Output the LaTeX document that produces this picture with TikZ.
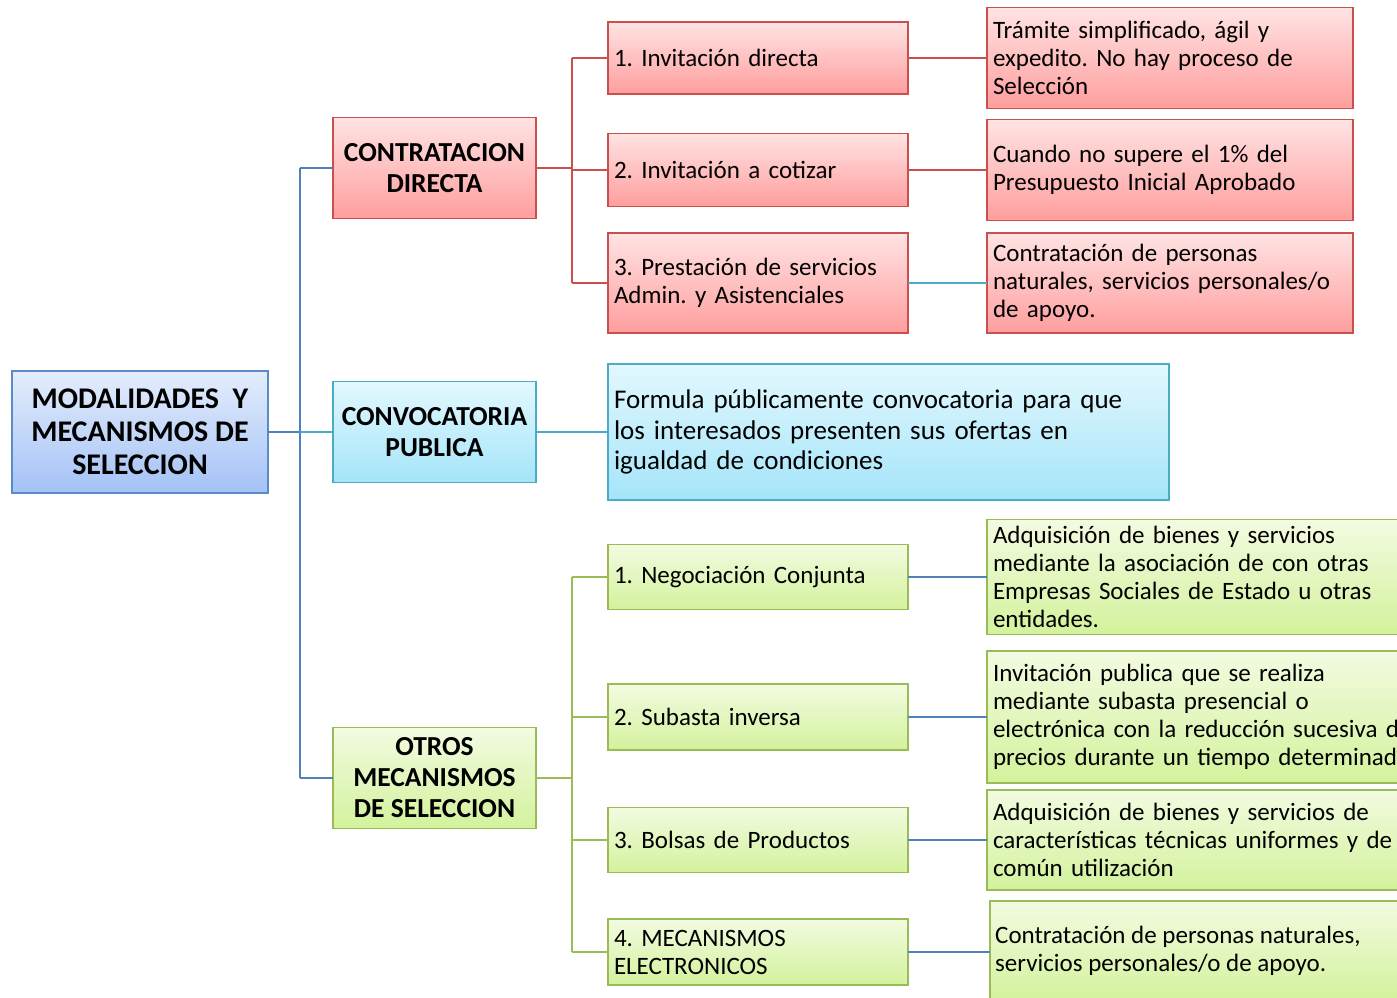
\documentclass[tikz,border=0pt]{standalone}
\usepackage{fontspec}
\setmainfont{Carlito}
\frenchspacing
\definecolor{redB}{HTML}{C9504D}
\definecolor{redT}{HTML}{FFE3E3}
\definecolor{redD}{HTML}{FF9E9E}
\definecolor{bluB}{HTML}{5B8BC9}
\definecolor{bluT}{HTML}{E4EDFC}
\definecolor{bluD}{HTML}{A4C2F6}
\definecolor{cyB}{HTML}{4BACC6}
\definecolor{cyT}{HTML}{E3F8FE}
\definecolor{cyD}{HTML}{A4E5F9}
\definecolor{grB}{HTML}{9BBB59}
\definecolor{grT}{HTML}{F3FBE1}
\definecolor{grD}{HTML}{D3F29C}
\definecolor{lnBlue}{HTML}{4F81BD}
\begin{document}
\begin{tikzpicture}[x=1pt,y=-1pt,
  box/.style={rectangle,line width=1.2pt,inner sep=0pt,outer sep=0pt},
  redbox/.style={box,draw=redB,top color=redT,bottom color=redD},
  blubox/.style={box,draw=bluB,top color=bluT,bottom color=bluD},
  cybox/.style={box,draw=cyB,top color=cyT,bottom color=cyD},
  grbox/.style={box,draw=grB,top color=grT,bottom color=grD},
  head/.style={align=center,font=\bfseries\fontsize{27.5}{31}\selectfont},
  txt/.style={align=left,font=\fontsize{25}{28}\selectfont},
  redln/.style={draw=redB,line width=1.4pt},
  bluln/.style={draw=lnBlue,line width=1.4pt},
  cyln/.style={draw=cyB,line width=1.4pt},
  grln/.style={draw=grB,line width=1.4pt}]
\useasboundingbox (0,0) rectangle (1397,997);
\clip (0,0) rectangle (1397,997);
% main
\node[blubox,minimum width=256,minimum height=122,align=center,font=\bfseries\fontsize{30}{33}\selectfont] (main) at (140,432) {MODALIDADES\ \ Y\\MECANISMOS DE\\SELECCION};
% level 1
\node[redbox,head,minimum width=203,minimum height=101] (cd) at (434.5,168) {CONTRATACION\\DIRECTA};
\node[cybox,head,minimum width=203,minimum height=101] (cp) at (434.5,432) {CONVOCATORIA\\PUBLICA};
\node[grbox,head,minimum width=203,minimum height=101] (om) at (434.5,778) {OTROS\\MECANISMOS\\DE SELECCION};
% level 2 red
\node[redbox,txt,minimum width=300,minimum height=72,text width=288] (c1) at (758,58) {1. Invitación directa};
\node[redbox,txt,minimum width=300,minimum height=73,text width=288] (c2) at (758,170) {2. Invitación a cotizar};
\node[redbox,txt,minimum width=300,minimum height=100,text width=288] (c3) at (758,283) {3. Prestación de servicios\\Admin. y Asistenciales};
% level 3 red
\node[redbox,txt,minimum width=366,minimum height=101,text width=354] (r1) at (1170,58) {Trámite simplificado, ágil y\\expedito. No hay proceso de\\Selección};
\node[redbox,txt,minimum width=366,minimum height=101,text width=354] (r2) at (1170,170) {Cuando no supere el 1\% del\\Presupuesto Inicial Aprobado};
\node[redbox,txt,minimum width=366,minimum height=100,text width=354] (r3) at (1170,283) {Contratación de personas\\naturales, servicios personales/o\\de apoyo.};
% convocatoria text
\node[cybox,align=left,font=\fontsize{27}{30.5}\selectfont,minimum width=561,minimum height=136,text width=549] (f) at (888.5,432) {Formula públicamente\ convocatoria para que\\los interesados presenten\ sus ofertas en\\igualdad de condiciones};
% level 2 green
\node[grbox,txt,minimum width=300,minimum height=65,text width=288] (g1) at (758,577) {1. Negociación Conjunta};
\node[grbox,txt,minimum width=300,minimum height=66,text width=288] (g2) at (758,717) {2. Subasta inversa};
\node[grbox,txt,minimum width=300,minimum height=65,text width=288] (g3) at (758,840) {3. Bolsas de Productos};
\node[grbox,txt,minimum width=300,minimum height=66,text width=288] (g4) at (758,952) {4. MECANISMOS\\ELECTRONICOS};
% level 3 green
\node[grbox,txt,minimum width=440,minimum height=115,text width=428] (s1) at (1207,577) {Adquisición de bienes y servicios\\mediante la asociación de con otras\\Empresas Sociales de Estado u otras\\entidades.};
\node[grbox,txt,minimum width=440,minimum height=132,text width=428] (s2) at (1207,717) {Invitación publica que se realiza\\mediante subasta presencial o\\electrónica con la reducción sucesiva de\\precios durante un tiempo determinado};
\node[grbox,txt,minimum width=440,minimum height=100,text width=428] (s3) at (1207,840) {Adquisición de bienes y servicios de\\características técnicas uniformes y de\\común utilización};
\node[grbox,minimum width=440,minimum height=100,anchor=north west] (s4) at (990,901) {};
\node[txt,anchor=west,inner sep=0pt] (s4t) at (995,951) {Contratación de personas naturales,\\servicios personales/o de apoyo.};
% connectors
\coordinate (tr0) at (300,432);
\draw[bluln] (main.east) -- (tr0);
\draw[bluln] (tr0 |- cd.west) -- (tr0 |- om.west);
\draw[bluln] (tr0 |- cd.west) -- (cd.west);
\draw[cyln] (tr0) -- (cp.west);
\draw[bluln] (tr0 |- om.west) -- (om.west);
\coordinate (tr1) at (572,168);
\draw[redln] (cd.east) -- (tr1);
\draw[redln] (tr1 |- c1.west) -- (tr1 |- c3.west);
\draw[redln] (tr1 |- c1.west) -- (c1.west);
\draw[redln] (tr1 |- c2.west) -- (c2.west);
\draw[redln] (tr1 |- c3.west) -- (c3.west);
\draw[redln] (c1.east) -- (r1.west);
\draw[redln] (c2.east) -- (r2.west);
\draw[cyln] (c3.east) -- (r3.west);
\draw[cyln] (cp.east) -- (cp.east -| f.west);
\coordinate (tr2) at (572,778);
\draw[grln] (om.east) -- (tr2);
\draw[grln] (tr2 |- g1.west) -- (tr2 |- g4.west);
\draw[grln] (tr2 |- g1.west) -- (g1.west);
\draw[grln] (tr2 |- g2.west) -- (g2.west);
\draw[grln] (tr2 |- g3.west) -- (g3.west);
\draw[grln] (tr2 |- g4.west) -- (g4.west);
\draw[bluln] (g1.east) -- (s1.west);
\draw[bluln] (g2.east) -- (s2.west);
\draw[bluln] (g3.east) -- (s3.west);
\draw[bluln] (g4.east) -- (g4.east -| s4.west);
\end{tikzpicture}
\end{document}
